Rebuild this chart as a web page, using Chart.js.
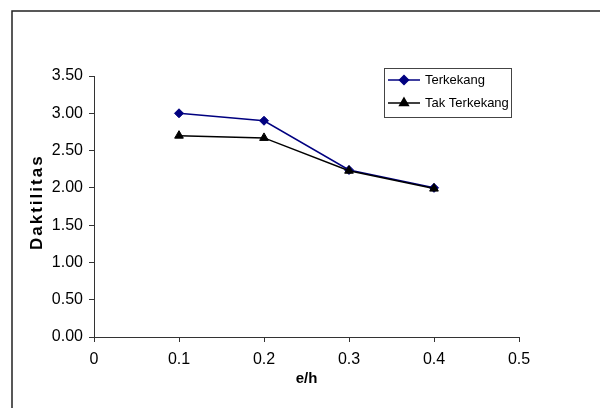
<!DOCTYPE html>
<html><head><meta charset="utf-8">
<script src="https://cdn.jsdelivr.net/npm/chart.js@4.4.1/dist/chart.umd.min.js"></script>
<style>html,body{margin:0;padding:0;background:#fff;overflow:hidden}#wrap{width:600px;height:408px;position:relative}</style>
</head><body><div id="wrap"><canvas id="c" width="600" height="408"></canvas></div>
<script>
const eh = [0.1, 0.2, 0.3, 0.4];
const terkekang = [3.00, 2.90, 2.24, 2.00];
const takTerkekang = [2.70, 2.67, 2.23, 1.99];
const seriesNames = ['Terkekang', 'Tak Terkekang'];
const xTickLabels = ['0', '0.1', '0.2', '0.3', '0.4', '0.5'];
const yTickLabels = ['0.00', '0.50', '1.00', '1.50', '2.00', '2.50', '3.00', '3.50'];
const xTitle = 'e/h';
const yTitle = 'Daktilitas';

const FONT = "'Liberation Sans', Arial, sans-serif";
const BLUE = '#000080';
const BLACK = '#000000';

const framePlugin = {
  id: 'frame',
  beforeDraw(chart) {
    const ctx = chart.ctx;
    ctx.save();
    ctx.fillStyle = '#fff';
    ctx.fillRect(0, 0, chart.width, chart.height);
    ctx.strokeStyle = '#222';
    ctx.lineWidth = 1.5;
    ctx.beginPath();
    ctx.moveTo(12, chart.height);
    ctx.lineTo(12, 11);
    ctx.lineTo(chart.width, 11);
    ctx.stroke();
    ctx.restore();
  },
  afterDraw(chart) {
    const ctx = chart.ctx;
    const area = chart.chartArea;
    ctx.save();
    // x title
    ctx.fillStyle = '#000';
    ctx.font = "bold 15px " + FONT;
    ctx.textAlign = 'center';
    ctx.textBaseline = 'middle';
    ctx.fillText(xTitle, (area.left + area.right) / 2, 379);
    // y title
    ctx.save();
    ctx.translate(42, 250);
    ctx.rotate(-Math.PI / 2);
    ctx.font = "bold 17px " + FONT;
    ctx.textAlign = 'left';
    ctx.textBaseline = 'alphabetic';
    try { ctx.letterSpacing = '2px'; } catch (e) {}
    ctx.fillText(yTitle, 0, 0);
    ctx.restore();
    // legend
    ctx.strokeStyle = '#444';
    ctx.lineWidth = 1;
    ctx.strokeRect(384.5, 68.5, 127, 49);
    const rows = [
      {name: seriesNames[0], color: BLUE, style: 'rectRot', r: 4.5, y: 80},
      {name: seriesNames[1], color: BLACK, style: 'triangle', r: 5, y: 103}
    ];
    rows.forEach(row => {
      ctx.strokeStyle = row.color;
      ctx.lineWidth = 1.5;
      ctx.beginPath();
      ctx.moveTo(388, row.y);
      ctx.lineTo(420, row.y);
      ctx.stroke();
      ctx.fillStyle = row.color;
      ctx.strokeStyle = row.color;
      Chart.helpers.drawPoint(ctx, {pointStyle: row.style, radius: row.r, rotation: 0, borderWidth: 1}, 404, row.y);
      ctx.fillStyle = '#000';
      ctx.font = "13px " + FONT;
      ctx.textAlign = 'left';
      ctx.textBaseline = 'middle';
      ctx.fillText(row.name, 425, row.y + 0.5);
    });
    ctx.restore();
  }
};

const axisCommon = {
  grid: {display: true, drawOnChartArea: false, drawTicks: true, tickLength: 5, color: '#333', lineWidth: 1},
  border: {display: true, color: '#333', width: 1},
};

new Chart(document.getElementById('c'), {
  type: 'scatter',
  data: {
    datasets: [
      {
        label: seriesNames[0],
        data: eh.map((x, i) => ({x: x, y: terkekang[i]})),
        showLine: true,
        borderColor: BLUE,
        backgroundColor: BLUE,
        borderWidth: 1.5,
        pointStyle: 'rectRot',
        pointRadius: 4.5,
        pointBorderWidth: 1,
        order: 2
      },
      {
        label: seriesNames[1],
        data: eh.map((x, i) => ({x: x, y: takTerkekang[i]})),
        showLine: true,
        borderColor: BLACK,
        backgroundColor: BLACK,
        borderWidth: 1.5,
        pointStyle: 'triangle',
        pointRadius: 5,
        pointBorderWidth: 1,
        order: 1
      }
    ]
  },
  options: {
    responsive: false,
    animation: false,
    devicePixelRatio: 1,
    layout: {padding: {top: 76, right: 81, left: 0, bottom: 0}},
    plugins: {legend: {display: false}, tooltip: {enabled: false}},
    scales: {
      x: Object.assign({}, axisCommon, {
        type: 'linear', min: 0, max: 0.5,
        ticks: {stepSize: 0.1, padding: 8, color: '#000', font: {family: FONT, size: 16},
          callback: (v, i) => xTickLabels[i]},
        afterFit: s => { s.height = 71; }
      }),
      y: Object.assign({}, axisCommon, {
        type: 'linear', min: 0, max: 3.5,
        ticks: {stepSize: 0.5, padding: 6, color: '#000', font: {family: FONT, size: 16},
          callback: (v, i) => yTickLabels[i]},
        afterFit: s => { s.width = 94; }
      })
    }
  },
  plugins: [framePlugin]
});
</script>
</body></html>
